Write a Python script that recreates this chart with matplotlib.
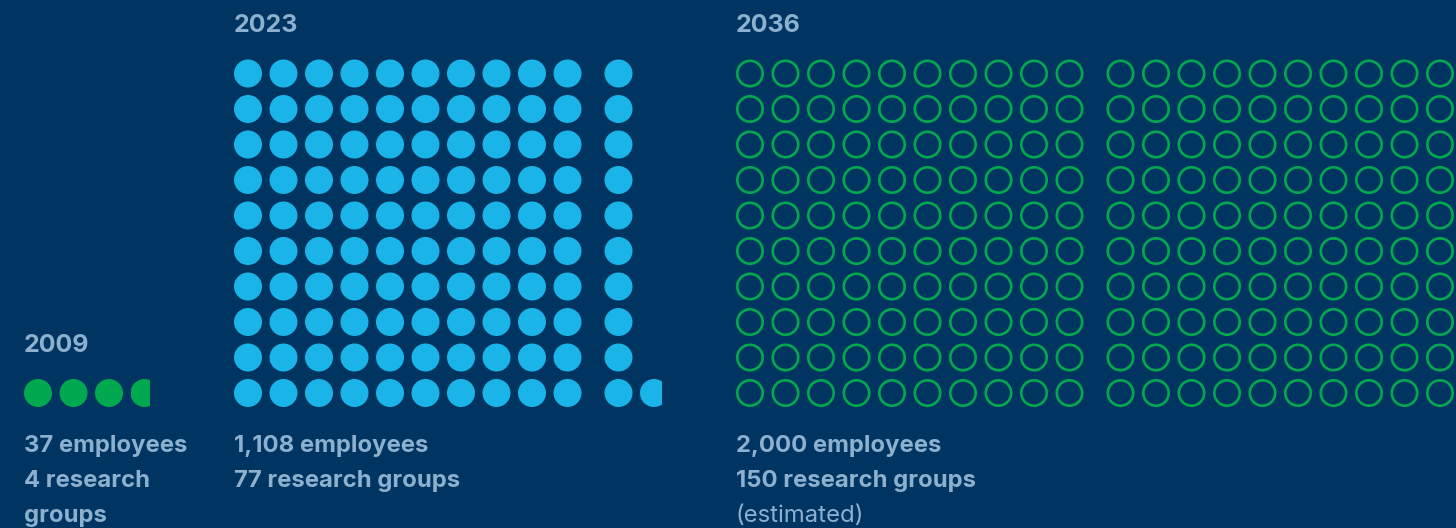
import matplotlib
matplotlib.use("Agg")
import matplotlib.pyplot as plt
from matplotlib.patches import Circle, Rectangle

# data
years = ["2009", "2023", "2036"]
employees = [37, 1108, 2000]
labels = [
    ["37 employees", "4 research", "groups"],
    ["1,108 employees", "77 research groups"],
    ["2,000 employees", "150 research groups", "(estimated)"],
]
per_dot = 10
rows = [1, 10, 10]
filled = [True, True, False]
colors = ["#00a84f", "#1ab4e8", "#00a84f"]

# layout (pixels)
W, H = 1456, 528
bg = "#003562"
txt = "#8cb1cf"
x0 = [38, 248, 750]
title_y = [352, 32, 32]
bottom_y = 393
step = 35.5
block_gap = 15.5
r = 14

fig = plt.figure(figsize=(W / 100, H / 100), dpi=100, facecolor=bg)
ax = fig.add_axes([0, 0, 1, 1])
ax.set_xlim(0, W)
ax.set_ylim(H, 0)
ax.axis("off")
ax.set_facecolor(bg)

for g in range(len(years)):
    n = employees[g] / per_dot
    i = 0
    while i < n:
        frac = min(1.0, n - i)
        per_block = rows[g] * 10
        block, j = divmod(i, per_block)
        col, row = divmod(j, rows[g])
        cx = x0[g] + block * (10 * step + block_gap) + col * step
        cy = bottom_y - row * step
        if filled[g]:
            c = Circle((cx, cy), r, facecolor=colors[g], edgecolor="none")
        else:
            c = Circle((cx, cy), r - 1.3, facecolor="none", edgecolor=colors[g], linewidth=1.9)
        ax.add_patch(c)
        if frac < 1:
            clip = Rectangle((cx - r, cy - r), 2 * r * frac, 2 * r, transform=ax.transData)
            c.set_clip_path(clip)
        i += 1

    tx = x0[g] - r
    ax.text(tx, title_y[g], years[g], color=txt, fontsize=18, fontweight="bold",
            family="Inter", va="baseline", ha="left")
    for k, line in enumerate(labels[g]):
        w = "normal" if line.startswith("(") else "bold"
        ax.text(tx, 452 + k * 35, line, color=txt, fontsize=17.2, fontweight=w,
                family="Inter", va="baseline", ha="left")

fig.savefig("out.png", dpi=100, facecolor=bg)
